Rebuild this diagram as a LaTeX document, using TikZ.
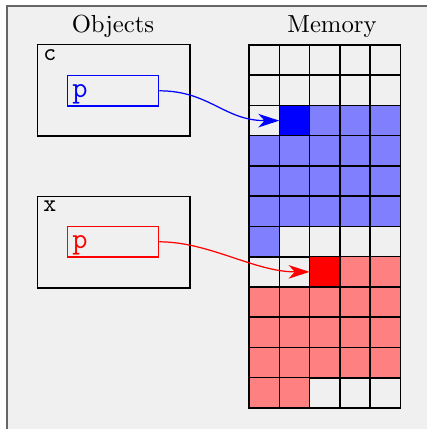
\documentclass[tikz,border=0pt]{standalone}
\usetikzlibrary{arrows.meta}
\definecolor{bg}{HTML}{F0F0F0}
\begin{document}
\begin{tikzpicture}[x=0.405pt,y=-0.405pt,
  cell/.style={draw=black, line width=0.6pt, minimum size=12.27pt, inner sep=0pt, outer sep=0pt},
  objbox/.style={draw=black, line width=0.6pt, minimum width=61.6pt, minimum height=36.9pt, inner sep=0pt, anchor=north west},
  ptrbox/.style={line width=0.5pt, minimum width=36.9pt, minimum height=12.3pt, inner sep=0pt, anchor=north west},
  ptrtext/.style={font=\ttfamily\large, inner sep=0pt, anchor=base west},
  objlabel/.style={font=\ttfamily, inner sep=0pt, anchor=base west},
  title/.style={inner sep=0pt, anchor=base},
  ptrarrow/.style={line width=0.5pt, -{Stealth[length=8.5pt,width=5.5pt,inset=2.5pt]}}]
\useasboundingbox (0,0) rectangle (427,429);
\fill[bg] (7,6) rectangle (440,440);
\draw[black!60, line width=0.8pt] (7,440) -- (7,6) -- (440,6);

\node[title] (tobj) at (113,32) {Objects};
\node[title] (tmem) at (332,32) {Memory};

% memory grid
\foreach \r in {1,...,12} {
  \foreach \c in {1,...,5} {
    \pgfmathtruncatemacro\i{(\r-1)*5+\c}
    \def\fc{none}
    \ifnum\i>11 \ifnum\i<32 \def\fc{blue!50}\fi\fi
    \ifnum\i>37 \ifnum\i<58 \def\fc{red!50}\fi\fi
    \ifnum\i=12 \def\fc{blue}\fi
    \ifnum\i=38 \def\fc{red}\fi
    \node[cell, fill=\fc] (m-\r-\c) at ({249+30.3*(\c-0.5)},{45+30.25*(\r-0.5)}) {};
  }
}

% object c
\node[objbox] (c) at (37,44) {};
\node[objlabel] (clab) at (43,60) {c};
\node[ptrbox, draw=blue] (cp) at (67,75) {};
\node[ptrtext, text=blue] (cpt) at (72,97) {p};

% object x
\node[objbox] (x) at (37,196) {};
\node[objlabel] (xlab) at (43,211) {x};
\node[ptrbox, draw=red] (xp) at (67,226) {};
\node[ptrtext, text=red] (xpt) at (72,248) {p};

\draw[ptrarrow, blue] (cp.east) .. controls +(50,0) and +(-55,0) .. (m-3-2.west);
\draw[ptrarrow, red] (xp.east) .. controls +(50,0) and +(-55,0) .. (m-8-3.west);
\end{tikzpicture}
\end{document}
